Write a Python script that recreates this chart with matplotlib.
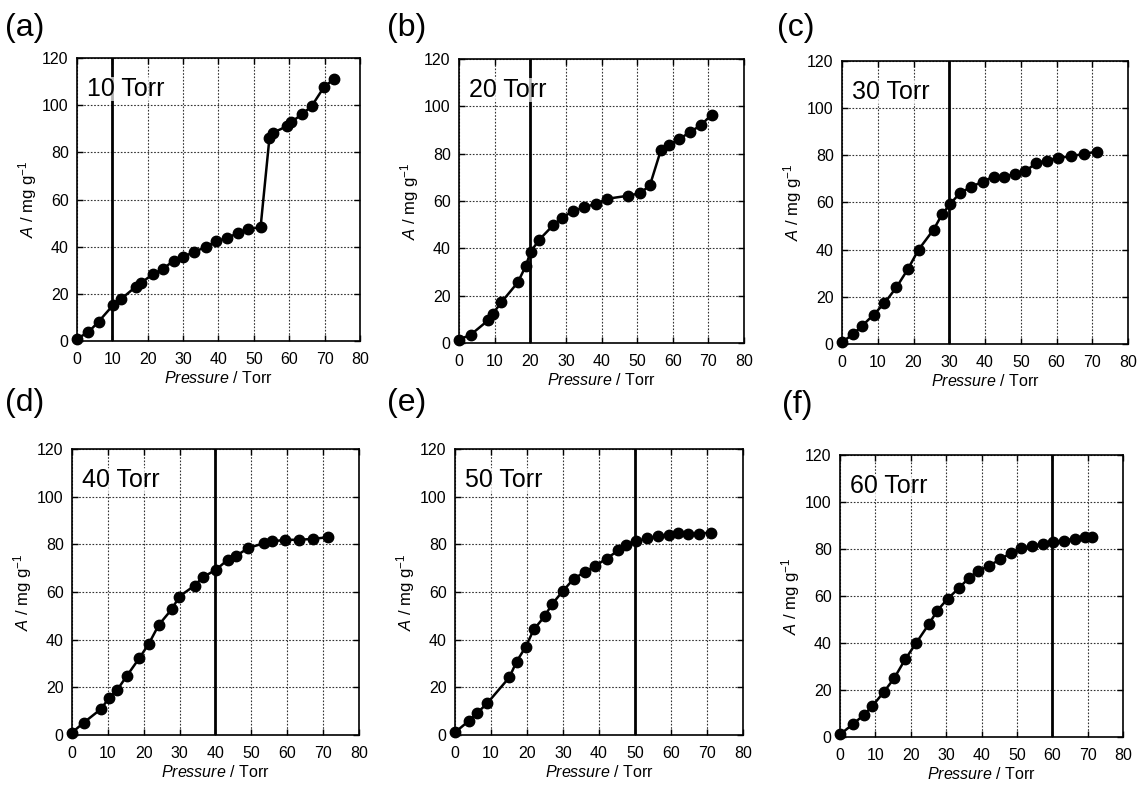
import matplotlib
matplotlib.use("Agg")
import matplotlib.pyplot as plt

plt.rcParams["font.family"] = ["Liberation Sans", "DejaVu Sans"]
plt.rcParams["mathtext.fontset"] = "custom"
plt.rcParams["mathtext.rm"] = "Liberation Sans"
plt.rcParams["mathtext.it"] = "Liberation Sans:italic"

# ── data (pressure in Torr, amount in mg/g) ──────────────────────────────────
p_a = [0, 3.2, 6.1, 10.2, 12.4, 16.6, 18.2, 21.4, 24.4, 27.3, 30.0, 33.2, 36.4,
       39.4, 42.4, 45.4, 48.4, 51.9, 54.4, 55.3, 59.5, 60.5, 63.6, 66.3, 69.8, 72.6]
a_a = [1.0, 3.7, 8.2, 15.2, 17.7, 23.0, 24.7, 28.3, 30.6, 34.1, 35.8, 37.7, 40.0,
       42.2, 43.8, 45.6, 47.5, 48.2, 86.0, 88.2, 91.2, 92.7, 96.2, 99.5, 107.6, 111.1]

p_b = [0, 3.3, 8.2, 9.5, 11.9, 16.5, 18.7, 20.1, 22.5, 26.4, 29.0, 31.9, 35.1,
       38.4, 41.5, 47.4, 50.9, 53.6, 56.7, 58.8, 61.8, 64.9, 67.9, 70.9]
a_b = [1.4, 3.5, 9.6, 12.4, 17.2, 25.6, 32.4, 38.5, 43.6, 49.7, 53.0, 55.6, 57.4,
       58.7, 60.9, 62.2, 63.3, 66.7, 81.7, 83.8, 86.1, 89.2, 92.0, 96.5]

p_c = [0, 3.0, 5.7, 8.8, 11.8, 15.2, 18.4, 21.4, 25.6, 28.0, 30.3, 33.0, 36.2,
       39.3, 42.4, 45.3, 48.3, 51.3, 54.2, 57.2, 60.4, 64.1, 67.6, 71.4]
a_c = [0.8, 4.1, 7.8, 12.4, 17.2, 24.0, 31.7, 40.0, 48.5, 55.0, 59.5, 64.0, 66.7,
       68.8, 71.0, 70.8, 72.2, 73.2, 76.7, 77.7, 78.9, 79.6, 80.6, 81.6]

p_d = [0, 3.3, 8.0, 10.3, 12.6, 15.3, 18.7, 21.4, 24.2, 27.9, 29.9, 34.2, 36.4,
       40.2, 43.4, 45.8, 49.2, 53.4, 55.8, 59.4, 63.4, 67.3, 71.5]
a_d = [1.0, 5.2, 10.8, 15.4, 18.9, 24.8, 32.1, 38.2, 46.2, 52.9, 58.1, 62.7, 66.1,
       69.4, 73.5, 75.2, 78.5, 80.4, 81.2, 81.9, 81.9, 82.3, 83.0]

p_e = [0, 3.9, 6.1, 9.0, 15.1, 17.1, 19.6, 21.9, 24.9, 26.9, 29.9, 33.0, 36.1,
       39.0, 42.1, 45.4, 47.4, 50.4, 53.4, 56.3, 59.4, 62.0, 64.8, 67.7, 71.0]
a_e = [1.1, 6.0, 9.1, 13.4, 24.2, 30.8, 36.9, 44.3, 49.8, 54.8, 60.3, 65.6, 68.4,
       71.0, 74.0, 77.5, 79.9, 81.4, 82.5, 83.4, 84.1, 84.9, 84.3, 84.5, 84.9]

p_f = [0, 3.6, 6.8, 9.1, 12.3, 15.3, 18.4, 21.6, 25.1, 27.5, 30.4, 33.7, 36.5,
       38.9, 42.1, 45.3, 48.3, 51.3, 54.3, 57.4, 60.2, 63.2, 66.3, 69.2, 71.2]
a_f = [1.1, 5.4, 9.5, 13.1, 19.0, 25.0, 33.0, 40.2, 48.0, 53.8, 58.8, 63.5, 67.8,
       70.5, 72.9, 75.6, 78.3, 80.4, 81.4, 82.2, 82.8, 83.5, 84.4, 85.1, 85.1]

panel_tags = ["(a)", "(b)", "(c)", "(d)", "(e)", "(f)"]
set_pressures = [10, 20, 30, 40, 50, 60]
x_ticks = [0, 10, 20, 30, 40, 50, 60, 70, 80]
y_ticks = [0, 20, 40, 60, 80, 100, 120]

series = [(p_a, a_a), (p_b, a_b), (p_c, a_c), (p_d, a_d), (p_e, a_e), (p_f, a_f)]

# axes boxes in figure fractions (left, bottom, width, height)
AX_POS = [
    [0.0677, 0.5667, 0.2489, 0.3596],
    [0.4037, 0.5642, 0.2507, 0.3609],
    [0.7406, 0.5629, 0.2515, 0.3596],
    [0.0633, 0.0661, 0.2524, 0.3634],
    [0.4002, 0.0661, 0.2533, 0.3634],
    [0.7388, 0.0635, 0.2489, 0.3583],
]
TAG_POS = [(0.004, 0.965), (0.340, 0.965), (0.683, 0.965),
           (0.004, 0.488), (0.340, 0.488), (0.688, 0.486)]

fig = plt.figure(figsize=(11.37, 7.87), dpi=100)

for i, ((px, ay), sp) in enumerate(zip(series, set_pressures)):
    ax = fig.add_axes(AX_POS[i])
    ax.set_xlim(0, 80)
    ax.set_ylim(0, 120)
    ax.set_xticks(x_ticks)
    ax.set_yticks(y_ticks)
    ax.grid(True, linestyle=(0, (1.5, 1.5)), color="#333333", linewidth=0.8)
    ax.set_axisbelow(True)
    ax.tick_params(direction="in", length=4, width=1, top=True, right=True,
                   labelsize=11.5)
    ax.tick_params(axis="x", pad=8)
    ax.tick_params(axis="y", pad=6)
    for s in ax.spines.values():
        s.set_linewidth(1.2)

    # set-pressure marker line
    ax.axvline(sp, color="black", linewidth=2, zorder=2)

    ax.plot(px, ay, color="black", marker="o", markersize=7.5, linewidth=1.8,
            zorder=3, clip_on=False)

    ax.text(0.035, 0.89, f"{sp} Torr", transform=ax.transAxes, fontsize=18,
            ha="left", va="center", zorder=4,
            bbox=dict(facecolor="white", edgecolor="none", alpha=0.7, pad=0))

    ax.set_xlabel(r"$\mathit{Pressure}$ / Torr", fontsize=11.5, labelpad=2)
    ax.set_ylabel(r"$\mathit{A}$ / mg g$^{-1}$", fontsize=12, labelpad=2)

    fig.text(TAG_POS[i][0], TAG_POS[i][1], panel_tags[i], fontsize=23,
             ha="left", va="center")

fig.savefig("out.png", dpi=100)
